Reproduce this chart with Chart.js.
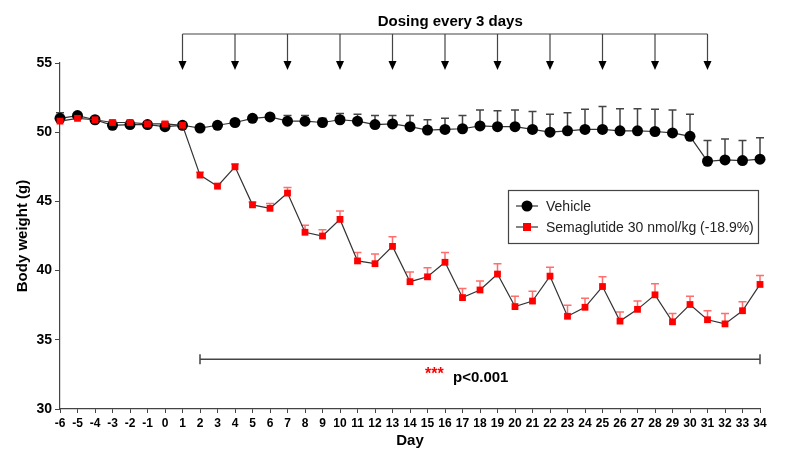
<!DOCTYPE html>
<html>
<head>
<meta charset="utf-8">
<script src="https://cdn.jsdelivr.net/npm/chart.js@4/dist/chart.umd.min.js"></script>
<style>
  body { margin: 0; background: #fff; }
  #wrap { width: 800px; height: 462px; }
</style>
</head>
<body>
<div id="wrap"><canvas id="bwChart" width="800" height="462"></canvas></div>
<script>
// study days
const days = [-6, -5, -4, -3, -2, -1, 0, 1, 2, 3, 4, 5, 6, 7, 8, 9, 10, 11, 12, 13, 14,
  15, 16, 17, 18, 19, 20, 21, 22, 23, 24, 25, 26, 27, 28, 29, 30, 31, 32, 33, 34];

// mean body weight (g)
const vehicle = [51.0, 51.2, 50.9, 50.5, 50.55, 50.55, 50.4, 50.5, 50.3, 50.5, 50.7, 51.0, 51.1,
  50.8, 50.8, 50.7, 50.9, 50.8, 50.55, 50.6, 50.4, 50.15, 50.2, 50.25, 50.45, 50.4, 50.4,
  50.2, 50.0, 50.1, 50.2, 50.2, 50.1, 50.1, 50.05, 49.95, 49.7, 47.9, 48.0, 47.95, 48.05];
const vehicleSem = [0.4, 0.15, 0.2, 0.15, 0.15, 0.1, 0.15, 0.15, 0.15, 0.15, 0.15, 0.15, 0.2,
  0.4, 0.4, 0.3, 0.45, 0.5, 0.65, 0.6, 0.8, 0.75, 0.8, 0.95, 1.15, 1.15, 1.2,
  1.3, 1.3, 1.3, 1.45, 1.65, 1.6, 1.6, 1.6, 1.65, 1.6, 1.5, 1.5, 1.45, 1.55];

const sema = [50.8, 51.0, 50.9, 50.7, 50.7, 50.6, 50.6, 50.5, 46.9, 46.1, 47.5, 44.75, 44.5,
  45.6, 42.77, 42.5, 43.7, 40.7, 40.5, 41.75, 39.2, 39.55, 40.6, 38.05, 38.6, 39.75, 37.4,
  37.8, 39.6, 36.7, 37.35, 38.85, 36.35, 37.2, 38.25, 36.3, 37.55, 36.45, 36.15, 37.1, 39.0];
const semaSem = [0.15, 0.15, 0.15, 0.15, 0.15, 0.15, 0.15, 0.15, 0.2, 0.2, 0.2, 0.2, 0.35,
  0.4, 0.5, 0.45, 0.6, 0.6, 0.7, 0.7, 0.7, 0.65, 0.7, 0.65, 0.65, 0.75, 0.75,
  0.7, 0.65, 0.8, 0.65, 0.7, 0.65, 0.6, 0.8, 0.6, 0.6, 0.65, 0.75, 0.65, 0.65];

const doseDays = [1, 4, 7, 10, 13, 16, 19, 22, 25, 28, 31];
const sigRange = [2, 34];
const sigLevel = 33.6;

const FONT = "Arial, 'Liberation Sans', sans-serif";

// upper SEM bars, drawn under the markers
const errorBars = {
  id: "errorBars",
  beforeDatasetsDraw(chart) {
    const { ctx, scales: { x, y } } = chart;
    chart.data.datasets.forEach((ds) => {
      ctx.save();
      ctx.strokeStyle = ds.errColor;
      ctx.lineWidth = 1.5;
      ds.data.forEach((p, i) => {
        const px = x.getPixelForValue(p.x);
        const y0 = y.getPixelForValue(p.y);
        const y1 = y.getPixelForValue(p.y + ds.sem[i]);
        ctx.beginPath();
        ctx.moveTo(px, y0);
        ctx.lineTo(px, y1);
        ctx.moveTo(px - 4, y1);
        ctx.lineTo(px + 4, y1);
        ctx.stroke();
      });
      ctx.restore();
    });
  }
};

// dosing arrows, significance bar and legend box
const annotations = {
  id: "annotations",
  afterDraw(chart) {
    const { ctx, scales: { x, y } } = chart;
    ctx.save();

    // dosing arrows
    const lineY = 34;
    const tipY = 70;
    ctx.strokeStyle = "#444";
    ctx.fillStyle = "#000";
    ctx.lineWidth = 1.2;
    ctx.beginPath();
    ctx.moveTo(x.getPixelForValue(doseDays[0]), lineY);
    ctx.lineTo(x.getPixelForValue(doseDays[doseDays.length - 1]), lineY);
    ctx.stroke();
    doseDays.forEach((d) => {
      const px = x.getPixelForValue(d);
      ctx.beginPath();
      ctx.moveTo(px, lineY);
      ctx.lineTo(px, tipY - 6);
      ctx.stroke();
      ctx.beginPath();
      ctx.moveTo(px - 4, tipY - 9);
      ctx.lineTo(px + 4, tipY - 9);
      ctx.lineTo(px, tipY);
      ctx.closePath();
      ctx.fill();
    });
    ctx.font = "bold 15px " + FONT;
    ctx.textAlign = "center";
    ctx.textBaseline = "alphabetic";
    ctx.fillText("Dosing every 3 days", x.getPixelForValue(16.3), 26);

    // significance bar
    const sy = y.getPixelForValue(sigLevel);
    const sx0 = x.getPixelForValue(sigRange[0]);
    const sx1 = x.getPixelForValue(sigRange[1]);
    ctx.strokeStyle = "#444";
    ctx.lineWidth = 1.5;
    ctx.beginPath();
    ctx.moveTo(sx0, sy);
    ctx.lineTo(sx1, sy);
    ctx.moveTo(sx0, sy - 5);
    ctx.lineTo(sx0, sy + 5);
    ctx.moveTo(sx1, sy - 5);
    ctx.lineTo(sx1, sy + 5);
    ctx.stroke();
    ctx.textAlign = "left";
    ctx.fillStyle = "#ff0000";
    ctx.font = "bold 16px " + FONT;
    ctx.fillText("***", 425, 379);
    ctx.fillStyle = "#000";
    ctx.font = "bold 15px " + FONT;
    ctx.fillText("p<0.001", 453, 382);

    // legend
    const lx = 508, ly = 190, lw = 250, lh = 53;
    ctx.strokeStyle = "#444";
    ctx.lineWidth = 1.2;
    ctx.strokeRect(lx + 0.5, ly + 0.5, lw, lh);
    const rows = [
      { label: "Vehicle", ds: chart.data.datasets[1], cy: 206 },
      { label: "Semaglutide 30 nmol/kg (-18.9%)", ds: chart.data.datasets[0], cy: 227 }
    ];
    rows.forEach((r) => {
      ctx.strokeStyle = "#333";
      ctx.lineWidth = 1.2;
      ctx.beginPath();
      ctx.moveTo(516, r.cy);
      ctx.lineTo(538, r.cy);
      ctx.stroke();
      ctx.fillStyle = r.ds.pointBackgroundColor;
      if (r.ds.pointStyle === "circle") {
        ctx.beginPath();
        ctx.arc(527, r.cy, 5.5, 0, Math.PI * 2);
        ctx.fill();
      } else {
        ctx.fillRect(523, r.cy - 4, 8, 8);
      }
      ctx.fillStyle = "#222";
      ctx.font = "14px " + FONT;
      ctx.textBaseline = "middle";
      ctx.fillText(r.label, 546, r.cy + 1);
    });

    ctx.restore();
  }
};

const tickFont = { family: FONT, size: 12, weight: "bold" };

new Chart(document.getElementById("bwChart"), {
  type: "line",
  data: {
    datasets: [
      {
        label: "Semaglutide 30 nmol/kg (-18.9%)",
        data: days.map((d, i) => ({ x: d, y: sema[i] })),
        sem: semaSem,
        errColor: "rgba(255, 60, 60, 0.75)",
        borderColor: "#333",
        borderWidth: 1.2,
        pointStyle: "rect",
        pointRadius: 4.8,
        pointBackgroundColor: "#ff0000",
        pointBorderColor: "#ff0000",
        pointBorderWidth: 0,
        tension: 0,
        clip: false,
        order: 0
      },
      {
        label: "Vehicle",
        data: days.map((d, i) => ({ x: d, y: vehicle[i] })),
        sem: vehicleSem,
        errColor: "#444",
        borderColor: "#333",
        borderWidth: 1.2,
        pointStyle: "circle",
        pointRadius: 5.5,
        pointBackgroundColor: "#000",
        pointBorderColor: "#000",
        pointBorderWidth: 0,
        tension: 0,
        clip: false,
        order: 1
      }
    ]
  },
  options: {
    responsive: false,
    animation: false,
    layout: { padding: { top: 63, right: 40, left: 10, bottom: 8 } },
    plugins: {
      legend: { display: false },
      tooltip: { enabled: false }
    },
    scales: {
      x: {
        type: "linear",
        min: -6,
        max: 34,
        afterFit: (scale) => { scale.height = 45; },
        ticks: {
          stepSize: 1,
          autoSkip: false,
          maxRotation: 0,
          color: "#000",
          font: tickFont,
          padding: 3
        },
        grid: { drawOnChartArea: false, drawTicks: true, tickLength: 4, color: "#444" },
        border: { color: "#444", width: 1.2 },
        title: {
          display: true,
          text: "Day",
          color: "#000",
          font: { family: FONT, size: 15, weight: "bold" },
          padding: { top: 0 }
        }
      },
      y: {
        min: 30,
        max: 55,
        afterFit: (scale) => { scale.width = 50; },
        ticks: {
          stepSize: 5,
          color: "#000",
          font: { family: FONT, size: 14, weight: "bold" },
          padding: 3
        },
        grid: { drawOnChartArea: false, drawTicks: true, tickLength: 5, color: "#444" },
        border: { color: "#444", width: 1.2 },
        title: {
          display: true,
          text: "Body weight (g)",
          color: "#000",
          font: { family: FONT, size: 15, weight: "bold" },
          padding: { bottom: 2 }
        }
      }
    }
  },
  plugins: [errorBars, annotations]
});
</script>
</body>
</html>
